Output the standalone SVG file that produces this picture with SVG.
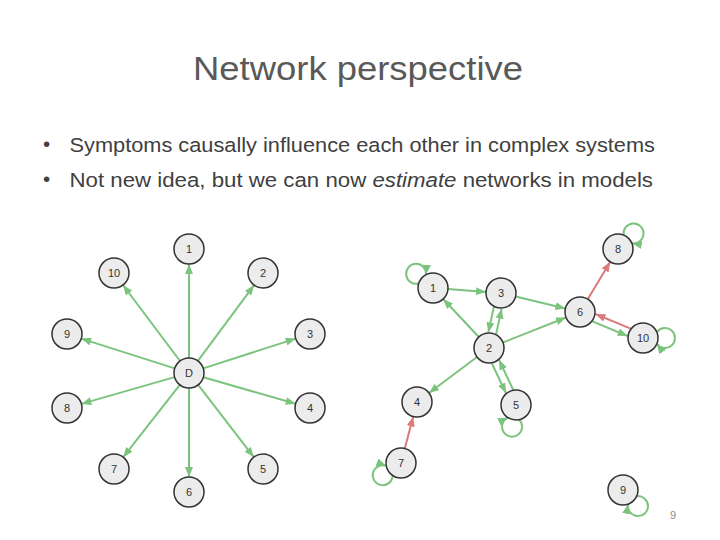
<svg xmlns="http://www.w3.org/2000/svg" width="720" height="540" viewBox="0 0 720 540">
<defs>
<style>
.title{font-family:"Liberation Sans",Arial,sans-serif;font-size:34px;fill:#595959}
.bul{font-family:"Liberation Sans",Arial,sans-serif;font-size:20.5px;fill:#404040}
.node circle{fill:#ececec;stroke:#333;stroke-width:1.5}
.node text{font-family:"Liberation Sans",Arial,sans-serif;font-size:11px;fill:#333;text-anchor:middle;dominant-baseline:central}
.g{stroke:#7cc47e;stroke-width:2;fill:none;marker-end:url(#ag)}
.r{stroke:#da7a7a;stroke-width:2;fill:none;marker-end:url(#ar)}
.pg{font-family:"Liberation Sans",Arial,sans-serif;font-size:11px;fill:#8c8c8c}
</style>
<marker id="ag" markerUnits="userSpaceOnUse" markerWidth="10" markerHeight="8" refX="10" refY="4" orient="auto"><path d="M0,0 L10,4 L0,8 z" fill="#7cc47e"/></marker>
<marker id="ar" markerUnits="userSpaceOnUse" markerWidth="10" markerHeight="8" refX="10" refY="4" orient="auto"><path d="M0,0 L10,4 L0,8 z" fill="#da7a7a"/></marker>
</defs>
<rect width="720" height="540" fill="#fff"/>
<text class="title" x="193" y="79.5" textLength="330" lengthAdjust="spacingAndGlyphs">Network perspective</text>
<text class="bul" x="46.5" y="151" text-anchor="middle">•</text>
<text class="bul" x="69.5" y="152.3" textLength="585.5" lengthAdjust="spacingAndGlyphs">Symptoms causally influence each other in complex systems</text>
<text class="bul" x="46.5" y="186" text-anchor="middle">•</text>
<text class="bul" x="69.5" y="186.7" textLength="583.5" lengthAdjust="spacingAndGlyphs">Not new idea, but we can now <tspan font-style="italic">estimate</tspan> networks in models</text>

<g id="connectors">
<line class="g" x1="189" y1="358" x2="189" y2="264"/>
<line class="g" x1="189" y1="388" x2="189" y2="477"/>
<line class="g" x1="197.9" y1="360.9" x2="254.1" y2="285.1"/>
<line class="g" x1="180" y1="361" x2="123" y2="285"/>
<line class="g" x1="203.3" y1="368.4" x2="295.7" y2="338.6"/>
<line class="g" x1="174.7" y1="368.4" x2="81.3" y2="338.6"/>
<line class="g" x1="203.4" y1="377.2" x2="295.6" y2="403.8"/>
<line class="g" x1="174.6" y1="377.1" x2="81.4" y2="403.9"/>
<line class="g" x1="198.2" y1="384.9" x2="253.8" y2="457.1"/>
<line class="g" x1="179.8" y1="384.8" x2="123.2" y2="457.2"/>

<line class="g" x1="448" y1="289.1" x2="486" y2="291.9"/>
<line class="g" x1="478.8" y1="337" x2="443.2" y2="299"/>
<line class="g" x1="493.9" y1="306.8" x2="488.3" y2="332.4"/>
<line class="g" x1="496.1" y1="334.2" x2="501.7" y2="308.6"/>
<line class="g" x1="515.6" y1="296.5" x2="565.4" y2="308.5"/>
<line class="g" x1="503" y1="342.5" x2="566" y2="317.5"/>
<line class="r" x1="587.7" y1="299.2" x2="610.3" y2="261.8"/>
<line class="g" x1="592.4" y1="321.4" x2="627.6" y2="336"/>
<line class="r" x1="630.6" y1="328.6" x2="595.4" y2="314"/>
<line class="g" x1="477" y1="357" x2="429" y2="393"/>
<line class="g" x1="491.8" y1="363.2" x2="506" y2="393.2"/>
<line class="g" x1="513.2" y1="389.8" x2="499" y2="359.8"/>
<line class="r" x1="404.8" y1="448.5" x2="413.2" y2="416.5"/>
<path class="g" d="M418.7,283.5 A10,10 0 1 1 426.1,274.7"/>
<path class="g" d="M623.7,235.1 A10,10 0 1 1 631.9,243.3"/>
<path class="g" d="M656.8,332.2 A10,10 0 1 1 656.8,343.8"/>
<path class="g" d="M519.2,419.6 A10,10 0 1 1 507.8,417.6"/>
<path class="g" d="M392.7,475.5 A10,10 0 1 1 386.3,465.9"/>
<path class="g" d="M636.6,496.2 A10,10 0 1 1 628.2,504"/>
</g>

<g id="L-D" class="node"><circle cx="189" cy="373" r="15"/><text x="189" y="373">D</text></g>
<g id="L-1" class="node"><circle cx="189" cy="249" r="15"/><text x="189" y="249">1</text></g>
<g id="L-2" class="node"><circle cx="263" cy="273" r="15"/><text x="263" y="273">2</text></g>
<g id="L-3" class="node"><circle cx="310" cy="334" r="15"/><text x="310" y="334">3</text></g>
<g id="L-4" class="node"><circle cx="310" cy="408" r="15"/><text x="310" y="408">4</text></g>
<g id="L-5" class="node"><circle cx="263" cy="469" r="15"/><text x="263" y="469">5</text></g>
<g id="L-6" class="node"><circle cx="189" cy="492" r="15"/><text x="189" y="492">6</text></g>
<g id="L-7" class="node"><circle cx="114" cy="469" r="15"/><text x="114" y="469">7</text></g>
<g id="L-8" class="node"><circle cx="67" cy="408" r="15"/><text x="67" y="408">8</text></g>
<g id="L-9" class="node"><circle cx="67" cy="334" r="15"/><text x="67" y="334">9</text></g>
<g id="L-10" class="node"><circle cx="114" cy="273" r="15"/><text x="114" y="273">10</text></g>

<g id="R-1" class="node"><circle cx="433" cy="288" r="15"/><text x="433" y="288">1</text></g>
<g id="R-2" class="node"><circle cx="489" cy="348" r="15"/><text x="489" y="348">2</text></g>
<g id="R-3" class="node"><circle cx="501" cy="293" r="15"/><text x="501" y="293">3</text></g>
<g id="R-4" class="node"><circle cx="417" cy="402" r="15"/><text x="417" y="402">4</text></g>
<g id="R-5" class="node"><circle cx="516" cy="405" r="15"/><text x="516" y="405">5</text></g>
<g id="R-6" class="node"><circle cx="580" cy="312" r="15"/><text x="580" y="312">6</text></g>
<g id="R-7" class="node"><circle cx="401" cy="463" r="15"/><text x="401" y="463">7</text></g>
<g id="R-8" class="node"><circle cx="618" cy="249" r="15"/><text x="618" y="249">8</text></g>
<g id="R-9" class="node"><circle cx="623" cy="490" r="15"/><text x="623" y="490">9</text></g>
<g id="R-10" class="node"><circle cx="643" cy="338" r="15"/><text x="643" y="338">10</text></g>

<text class="pg" x="673" y="519" text-anchor="middle">9</text>
</svg>
